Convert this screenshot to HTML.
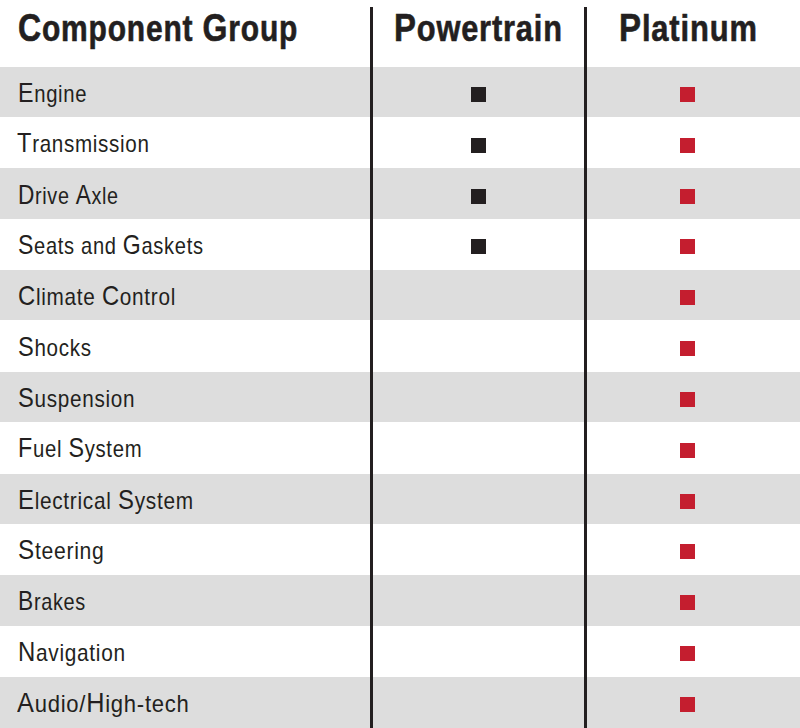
<!DOCTYPE html>
<html><head><meta charset="utf-8"><style>
html,body{margin:0;padding:0;background:#fff;}
body{width:800px;height:728px;position:relative;overflow:hidden;font-family:"Liberation Sans",sans-serif;color:#231f20;}
.r{position:absolute;left:0;width:800px;}
.g{background:#dddddd;}
.t{position:absolute;white-space:nowrap;transform-origin:0 0;line-height:1;}
.h{letter-spacing:1.0px;font-weight:bold;font-size:36.5px;-webkit-text-stroke:0.6px #231f20;}
.hu{font-size:39px;}
.b{letter-spacing:0.8px;font-size:23.8px;}
.u{font-size:27.3px;}
.v{position:absolute;top:7px;bottom:0;width:3px;background:#231f20;}
.sq{position:absolute;width:15px;height:15px;}
</style></head><body>

<div class="r g" style="top:66.70px;height:50.30px"></div>
<div class="r g" style="top:168.45px;height:50.30px"></div>
<div class="r g" style="top:270.20px;height:50.30px"></div>
<div class="r g" style="top:371.95px;height:50.30px"></div>
<div class="r g" style="top:473.70px;height:50.30px"></div>
<div class="r g" style="top:575.45px;height:50.30px"></div>
<div class="r g" style="top:677.20px;height:50.80px"></div>
<div class="v" style="left:370px"></div>
<div class="v" style="left:584px"></div>
<div class="t h" style="left:17.55px;top:8px;transform:scaleX(0.8212)"><span class="hu">C</span>omponent <span class="hu">G</span>roup</div>
<div class="t h" style="left:394.0px;top:8.3px;transform:scaleX(0.8427)"><span class="hu">P</span>owertrain</div>
<div class="t h" style="left:618.74px;top:8.3px;transform:scaleX(0.8469)"><span class="hu">P</span>latinum</div>
<div class="t b" style="left:18.17px;top:78.80px;transform:scaleX(0.8512)"><span class="u">E</span>ngine</div>
<div class="sq" style="left:471px;top:86.80px;background:#231f20"></div>
<div class="sq" style="left:680px;top:86.80px;background:#c41e2f"></div>
<div class="t b" style="left:17.15px;top:128.65px;transform:scaleX(0.8658)"><span class="u">T</span>ransmission</div>
<div class="sq" style="left:471px;top:137.65px;background:#231f20"></div>
<div class="sq" style="left:680px;top:137.65px;background:#c41e2f"></div>
<div class="t b" style="left:17.81px;top:180.50px;transform:scaleX(0.8307)"><span class="u">D</span>rive <span class="u">A</span>xle</div>
<div class="sq" style="left:471px;top:188.50px;background:#231f20"></div>
<div class="sq" style="left:680px;top:188.50px;background:#c41e2f"></div>
<div class="t b" style="left:17.53px;top:231.35px;transform:scaleX(0.8448)"><span class="u">S</span>eats and <span class="u">G</span>askets</div>
<div class="sq" style="left:471px;top:239.35px;background:#231f20"></div>
<div class="sq" style="left:680px;top:239.35px;background:#c41e2f"></div>
<div class="t b" style="left:17.71px;top:282.20px;transform:scaleX(0.8723)"><span class="u">C</span>limate <span class="u">C</span>ontrol</div>
<div class="sq" style="left:680px;top:290.20px;background:#c41e2f"></div>
<div class="t b" style="left:17.66px;top:333.05px;transform:scaleX(0.8654)"><span class="u">S</span>hocks</div>
<div class="sq" style="left:680px;top:341.05px;background:#c41e2f"></div>
<div class="t b" style="left:17.66px;top:383.90px;transform:scaleX(0.8695)"><span class="u">S</span>uspension</div>
<div class="sq" style="left:680px;top:391.90px;background:#c41e2f"></div>
<div class="t b" style="left:17.88px;top:433.75px;transform:scaleX(0.8537)"><span class="u">F</span>uel <span class="u">S</span>ystem</div>
<div class="sq" style="left:680px;top:442.75px;background:#c41e2f"></div>
<div class="t b" style="left:18.39px;top:485.60px;transform:scaleX(0.8752)"><span class="u">E</span>lectrical <span class="u">S</span>ystem</div>
<div class="sq" style="left:680px;top:493.60px;background:#c41e2f"></div>
<div class="t b" style="left:17.78px;top:536.45px;transform:scaleX(0.8887)"><span class="u">S</span>teering</div>
<div class="sq" style="left:680px;top:544.45px;background:#c41e2f"></div>
<div class="t b" style="left:18.31px;top:587.30px;transform:scaleX(0.8353)"><span class="u">B</span>rakes</div>
<div class="sq" style="left:680px;top:595.30px;background:#c41e2f"></div>
<div class="t b" style="left:17.51px;top:638.15px;transform:scaleX(0.8764)"><span class="u">N</span>avigation</div>
<div class="sq" style="left:680px;top:646.15px;background:#c41e2f"></div>
<div class="t b" style="left:17.01px;top:689.00px;transform:scaleX(0.9271)"><span class="u">A</span>udio/<span class="u">H</span>igh-tech</div>
<div class="sq" style="left:680px;top:697.00px;background:#c41e2f"></div>
</body></html>
